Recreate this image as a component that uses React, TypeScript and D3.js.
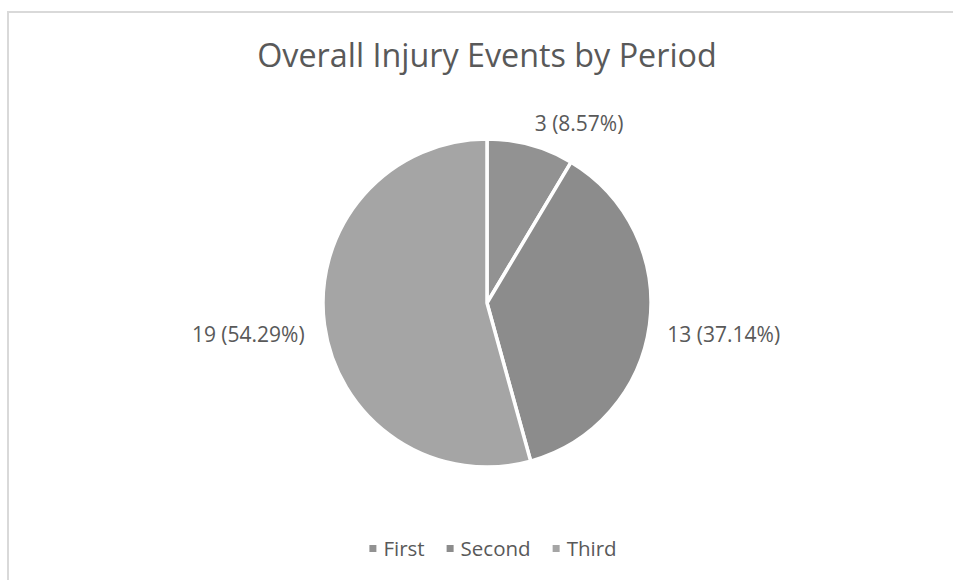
import React, { useEffect, useRef } from "react";
import * as d3 from "d3";

// chart data
const periods = ["First", "Second", "Third"];
const injuryCounts = [3, 13, 19];
const sliceColors = ["#929292", "#8c8c8c", "#a5a5a5"];
const chartTitle = "Overall Injury Events by Period";

const WIDTH = 953;
const HEIGHT = 580;

const App = () => {
  const chartRef = useRef<SVGSVGElement>(null);

  useEffect(() => {
    document.body.style.margin = "0";

    const cx = 487;
    const cy = 303;
    const radius = 164;
    const labelRadius = 183;
    const font = "'Open Sans', 'Liberation Sans', sans-serif";
    const textColor = "#595959";

    const svg = d3.select(chartRef.current);
    svg.selectAll("*").remove();

    svg
      .attr("width", WIDTH)
      .attr("height", HEIGHT)
      .attr("viewBox", [0, 0, WIDTH, HEIGHT])
      .style("display", "block")
      .style("background", "#fff");

    // chart frame (runs off the right and bottom)
    svg
      .append("rect")
      .attr("x", 8)
      .attr("y", 12)
      .attr("width", WIDTH + 20)
      .attr("height", HEIGHT + 20)
      .attr("fill", "none")
      .attr("stroke", "#d9d9d9")
      .attr("stroke-width", 2);

    svg
      .append("text")
      .attr("x", cx)
      .attr("y", 67)
      .attr("text-anchor", "middle")
      .attr("font-family", font)
      .attr("font-size", 32.3)
      .attr("fill", textColor)
      .text(chartTitle);

    const total = d3.sum(injuryCounts);
    const color = d3.scaleOrdinal<string, string>(periods, sliceColors);

    const pie = d3
      .pie<number>()
      .sort(null)
      .value((d) => d);
    const arcs = pie(injuryCounts);

    const arc = d3.arc<d3.PieArcDatum<number>>().innerRadius(0).outerRadius(radius);

    const g = svg.append("g").attr("transform", `translate(${cx},${cy})`);

    g.selectAll("path")
      .data(arcs)
      .join("path")
      .attr("d", arc)
      .attr("fill", (d, i) => color(periods[i]))
      .attr("stroke", "#fff")
      .attr("stroke-width", 3.5)
      .attr("stroke-linejoin", "round");

    g.selectAll("text")
      .data(arcs)
      .join("text")
      .attr("x", (d) => {
        const a = (d.startAngle + d.endAngle) / 2;
        return labelRadius * Math.sin(a) - 1;
      })
      .attr("y", (d) => {
        const a = (d.startAngle + d.endAngle) / 2;
        const side = Math.abs(Math.sin(a)) > 0.9 ? 7 : -3;
        return -labelRadius * Math.cos(a) + side;
      })
      .attr("dy", "0.35em")
      .attr("text-anchor", (d) =>
        Math.sin((d.startAngle + d.endAngle) / 2) > 0 ? "start" : "end"
      )
      .attr("font-family", font)
      .attr("font-size", 21)
      .attr("fill", textColor)
      .text((d) => `${d.data} (${((d.data / total) * 100).toFixed(2)}%)`);

    // legend
    const legend = svg.append("g").attr("font-family", font).attr("font-size", 20.5);
    const items = legend
      .selectAll("g")
      .data(periods)
      .join("g");
    items
      .append("rect")
      .attr("width", 7)
      .attr("height", 7)
      .attr("y", -4)
      .attr("fill", (d) => color(d));
    items
      .append("text")
      .attr("x", 14)
      .attr("dy", "0.35em")
      .attr("fill", textColor)
      .text((d) => d);

    let offset = 0;
    const widths: number[] = [];
    items.each(function () {
      widths.push((this as SVGGElement).getBBox().width);
    });
    const gap = 22;
    const totalW = d3.sum(widths) + gap * (widths.length - 1);
    const startX = 493 - totalW / 2;
    items.attr("transform", (d, i) => {
      const x = startX + offset;
      offset += widths[i] + gap;
      return `translate(${x},549)`;
    });
  }, []);

  return <svg ref={chartRef}></svg>;
};

export default App;
